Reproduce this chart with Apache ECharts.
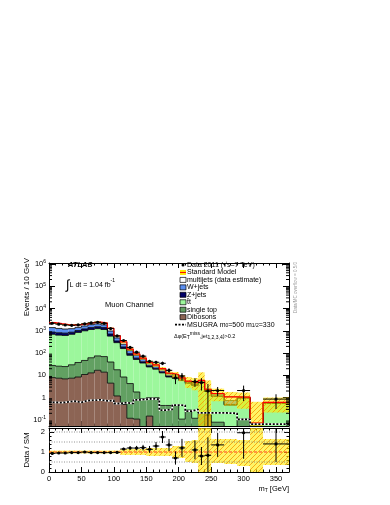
<!DOCTYPE html>
<html lang="en">

<head>
  <meta charset="UTF-8">
  <title>ATLAS mT muon channel</title>
  <script src="https://cdn.jsdelivr.net/npm/echarts@6/dist/echarts.min.js"></script>
  <style>
    * {
      padding: 0;
      margin: 0;
    }

    #box {
      width: 390px;
      height: 505px;
      background: #fff;
    }
  </style>
</head>

<body>
  <div id="box"></div>
  <script>
    // bins in mT [GeV], values in events / 10 GeV
    var binEdges = [0, 10, 20, 30, 40, 50, 60, 70, 80, 90, 100, 110, 120, 130, 140, 150, 160, 170, 180, 190,
      200, 210, 220, 230, 240, 250, 270, 290, 310, 330, 370]
    var dibosons = [8, 7.5, 7, 7.5, 8.5, 11, 13, 17, 14, 4.5, 1.2, 0.5, 0.12, 0.11, 0.04, 0.15, 0, 0, 0, 0,
      0, 0, 0, 0, 0.17, 0, 0, 0, 0, 0]
    var singleTop = [20, 18.5, 18, 22.5, 29.5, 36, 49, 58, 56, 35.5, 16.8, 8, 4.2, 1.7, 0.86, 0.85, 1.0, 0.45, 0.45, 0.45,
      0.11, 0.28, 0.12, 0.2, 0, 0.08, 0.05, 0.11, 0, 0.02]
    var ttbar = [672, 614, 595, 670, 812, 953, 1088, 1175, 1080, 540, 277, 151.5, 75.7, 50.2, 35.1, 23, 18, 12.55, 8.05, 7.05,
      5.89, 4.12, 3.38, 4.4, 1.73, 1.07, 0.42, 0.84, 0.06, 0.53]
    var zJets = [180, 180, 170, 170, 180, 220, 250, 280, 250, 140, 55, 30, 15, 8, 5, 3, 2, 1.5, 1, 0.8,
      0.5, 0.4, 0.4, 0.4, 0.15, 0.05, 0.03, 0.03, 0.005, 0.02]
    var wJets = [520, 460, 410, 380, 400, 430, 500, 520, 450, 260, 130, 60, 35, 20, 13, 7, 6, 4, 2.5, 2,
      0.9, 0.5, 0.6, 0.7, 0.25, 0.25, 0.25, 0.04, 0.005, 0.03]
    var multijets = [950, 820, 720, 570, 470, 410, 430, 430, 380, 320, 120, 70, 20, 12, 6, 4, 3, 1.5, 0.5, 0.7,
      0.4, 0.2, 0.3, 0.3, 0.1, 0.1, 0.35, 0.05, 0.003, 0.02]
    var data2011 = [2185, 1995, 1824, 1765, 1843, 2060, 2260, 2405, 2163, 1261, 588, 368, 180, 110, 73, 43, 39, 35, 16.9, 7.7,
      9.4, null, 5.3, 4.8, 2.0, 2.1, null, 2.1, null, 0.87]
    // data error, in units of data/SM
    var ratioErr = [0.02, 0.02, 0.02, 0.02, 0.02, 0.02, 0.02, 0.02, 0.02, 0.03, 0.04, 0.06, 0.09, 0.11, 0.14, 0.17, 0.2, 0.3, 0.3, 0.33,
      0.45, 0, 0.47, 0.45, 0.9, 0.6, 0, 1.3, 0, 0.9]
    // SM uncertainty band, relative
    var bandUp = [0.07, 0.07, 0.07, 0.07, 0.07, 0.07, 0.07, 0.07, 0.07, 0.07, 0.07, 0.15, 0.15, 0.15, 0.15, 0.2, 0.2, 0.2, 0.2, 0.3,
      0.3, 0.55, 0.6, 1.3, 1.5, 0.65, 0.65, 0.6, 8, 0.65]
    var bandDown = [0.07, 0.07, 0.07, 0.07, 0.07, 0.07, 0.07, 0.07, 0.07, 0.07, 0.07, 0.15, 0.15, 0.15, 0.15, 0.2, 0.2, 0.2, 0.2, 0.3,
      0.3, 0.5, 0.55, 1, 1, 0.55, 0.6, 0.7, 1, 0.65]
    var msugra = [0.62, 0.6, 0.65, 0.7, 0.62, 0.75, 0.78, 0.8, 0.72, 0.75, 0.55, 0.6, 0.55, 0.8, 0.85, 0.9, 0.85, 0.28, 0.3, 0.47,
      0.45, 0.25, 0.3, 0.21, 0.21, 0.21, 0.2, 0.107, 0.066, 0.066]
    var xTicks = [0, 50, 100, 150, 200, 250, 300, 350]
    var refLevels = [0.5, 1.5, 2, 1]

    var legendLabels = ['Data 2011 (\u221As=7 TeV)', 'Standard Model', 'multijets (data estimate)', 'W+jets', 'Z+jets',
      't\u0304t', 'single top', 'Dibosons', 'MSUGRA m{sub|0}=500 m{sub|1/2}=330']

    var FONT = '"Liberation Sans", Arial, Helvetica, sans-serif'
    var layerColors = ['#8c6454', '#62a062', '#9cf79c', '#000068', '#5b8ff0', '#ffffff']
    var nBins = binEdges.length - 1
    var FLOOR = 1e-3
    function pos(v) { return v > FLOOR ? v : FLOOR }

    var layers = [dibosons, singleTop, ttbar, zJets, wJets, multijets]
    var cumul = []
    layers.forEach(function (arr, l) {
      cumul.push(arr.map(function (v, i) { return v + (l ? cumul[l - 1][i] : 0) }))
    })
    var total = cumul[layers.length - 1]

    var stackData = []
    for (let l = 0; l < layers.length; l++) {
      for (let i = 0; i < nBins; i++) stackData.push([binEdges[i], pos(cumul[l][i]), i, l])
    }
    var binData = binEdges.slice(0, nBins).map(function (e, i) { return [e, pos(total[i]), i] })
    var pointData = [], ratioData = []
    data2011.forEach(function (v, i) {
      if (v === null) return
      var xc = (binEdges[i] + binEdges[i + 1]) / 2
      pointData.push([xc, v, i])
      ratioData.push([xc, v / total[i], i])
    })
    function stepLine(vals) {
      var pts = vals.map(function (v, i) { return [binEdges[i], v] })
      pts.push([binEdges[nBins], vals[nBins - 1]])
      return pts
    }
    var minorLog = []
    for (let n = -2; n <= 6; n++) {
      for (let k = 2; k <= 9; k++) minorLog.push([0, k * Math.pow(10, n)])
    }

    // yellow band with orange hatching
    var hatchCanvas = document.createElement('canvas')
    hatchCanvas.width = hatchCanvas.height = 5
    var g = hatchCanvas.getContext('2d')
    g.fillStyle = 'rgba(255,236,0,0.6)'
    g.fillRect(0, 0, 5, 5)
    g.strokeStyle = '#f59a00'
    g.lineWidth = 0.8
    g.beginPath()
    g.moveTo(0, 5); g.lineTo(5, 0)
    g.moveTo(-1, 1); g.lineTo(1, -1)
    g.moveTo(4, 6); g.lineTo(6, 4)
    g.stroke()
    var HATCH = { image: hatchCanvas, repeat: 'repeat' }

    function rectBetween(api, x0, x1, lo, hi, style) {
      var a = api.coord([x0, hi]), b = api.coord([x1, lo])
      return { type: 'rect', shape: { x: a[0], y: a[1], width: b[0] - a[0], height: b[1] - a[1] }, style: style }
    }

    function stackFill(params, api) {
      var i = api.value(2), l = api.value(3)
      var hi = pos(cumul[l][i]), lo = l === 0 ? FLOOR : pos(cumul[l - 1][i])
      if (hi <= lo) return null
      return rectBetween(api, binEdges[i], binEdges[i + 1], lo, hi, { fill: layerColors[l] })
    }

    function stackLine(params, api) {
      var i = api.value(2), l = api.value(3)
      var a = api.coord([binEdges[i], pos(cumul[l][i])])
      var b = api.coord([binEdges[i + 1], pos(cumul[l][i])])
      var pts = [a, b]
      if (i + 1 < nBins) pts.push(api.coord([binEdges[i + 1], pos(cumul[l][i + 1])]))
      return { type: 'polyline', shape: { points: pts }, style: { stroke: '#000', lineWidth: 0.8, fill: null } }
    }

    function bandMain(params, api) {
      var i = api.value(2)
      return rectBetween(api, binEdges[i], binEdges[i + 1], pos(total[i] * (1 - bandDown[i])),
        total[i] * (1 + bandUp[i]), { fill: HATCH })
    }

    function bandRatio(params, api) {
      var i = api.value(2)
      return rectBetween(api, binEdges[i], binEdges[i + 1], Math.max(1 - bandDown[i], -0.1),
        Math.min(1 + bandUp[i], 3), { fill: HATCH })
    }

    function errPoint(api, i, v, e, floor) {
      var xc = (binEdges[i] + binEdges[i + 1]) / 2
      var c = api.coord([xc, v])
      var l = api.coord([binEdges[i], v]), r = api.coord([binEdges[i + 1], v])
      var up = api.coord([xc, v + e]), dn = api.coord([xc, Math.max(v - e, floor)])
      return {
        type: 'group', children: [
          { type: 'line', shape: { x1: l[0], y1: c[1], x2: r[0], y2: c[1] }, style: { stroke: '#000', lineWidth: 1 } },
          { type: 'line', shape: { x1: c[0], y1: up[1], x2: c[0], y2: dn[1] }, style: { stroke: '#000', lineWidth: 1 } },
          { type: 'circle', shape: { cx: c[0], cy: c[1], r: 1.6 }, style: { fill: '#000' } }
        ]
      }
    }

    function dataMain(params, api) {
      var i = api.value(2)
      return errPoint(api, i, data2011[i], ratioErr[i] * total[i], FLOOR)
    }

    function dataRatio(params, api) {
      var i = api.value(2)
      return errPoint(api, i, data2011[i] / total[i], ratioErr[i], -0.1)
    }

    function minorTicks(params, api) {
      var l = api.coord([0, api.value(1)]), r = api.coord([370, api.value(1)])
      return {
        type: 'group', children: [
          { type: 'line', shape: { x1: l[0], y1: l[1], x2: l[0] + 3, y2: l[1] }, style: { stroke: '#000', lineWidth: 1 } },
          { type: 'line', shape: { x1: r[0], y1: r[1], x2: r[0] - 3, y2: r[1] }, style: { stroke: '#000', lineWidth: 1 } }
        ]
      }
    }

    function refLine(params, api) {
      var v = api.value(1), k = params.dataIndex
      var a = api.coord([0, v]), b = api.coord([370, v])
      var isOne = k === refLevels.length - 1
      return {
        type: 'line', shape: { x1: a[0], y1: a[1], x2: b[0], y2: b[1] },
        style: isOne ? { stroke: '#ff3b1f', lineWidth: 1, lineDash: [3, 2] } : { stroke: '#777', lineWidth: 0.8, lineDash: [1, 1.5] }
      }
    }

    var supRich = {
      sup: { fontSize: 5, verticalAlign: 'top', lineHeight: 9, fontFamily: FONT },
      sub: { fontSize: 5, verticalAlign: 'bottom', lineHeight: 7, fontFamily: FONT, padding: [3, 0, 0, 0] }
    }

    function xAxisOf(grid, position, labels) {
      return {
        gridIndex: grid, type: 'value', min: 0, max: 370, interval: 50, position: position,
        axisLine: { onZero: false, lineStyle: { color: '#000', width: 1 } },
        axisTick: { inside: true, length: 5, lineStyle: { color: '#000' } },
        minorTick: { show: true, splitNumber: 5, length: 2.5, lineStyle: { color: '#000' } },
        splitLine: { show: false },
        axisLabel: {
          show: labels, fontSize: 7.5, color: '#000', margin: 3, fontFamily: FONT,
          formatter: function (v) { return xTicks.indexOf(v) >= 0 ? String(v) : '' }
        }
      }
    }

    function logAxisOf(position, labels) {
      return {
        gridIndex: 0, type: 'log', min: 0.054, max: 1.1e6, splitNumber: 8, position: position,
        axisLine: { onZero: false, lineStyle: { color: '#000', width: 1 } },
        axisTick: { inside: true, length: 6, lineStyle: { color: '#000' } },
        splitLine: { show: false },
        axisLabel: {
          show: labels, fontSize: 7.5, color: '#000', margin: 3, fontFamily: FONT, rich: supRich,
          formatter: function (v) {
            var lg = Math.log10(v), e = Math.round(lg)
            if (Math.abs(lg - e) > 1e-6) return ''
            if (e === 0) return '1'
            if (e === 1) return '10'
            return '10{sup|' + e + '}'
          }
        }
      }
    }

    function ratioAxisOf(position, labels) {
      return {
        gridIndex: 1, type: 'value', min: 0, max: 2.2, interval: 1, position: position,
        axisLine: { onZero: false, lineStyle: { color: '#000', width: 1 } },
        axisTick: { inside: true, length: 5, lineStyle: { color: '#000' } },
        minorTick: { show: true, splitNumber: 5, length: 2.5, lineStyle: { color: '#000' } },
        splitLine: { show: false },
        axisLabel: {
          show: labels, fontSize: 7.5, color: '#000', margin: 4, fontFamily: FONT,
          formatter: function (v) { return Math.abs(v - Math.round(v)) < 1e-6 ? String(Math.round(v)) : '' }
        }
      }
    }

    function txt(x, y, text, size, extra) {
      var st = { text: text, fontSize: size, fontFamily: FONT, fill: '#000', verticalAlign: 'middle', rich: supRich }
      for (var k in extra || {}) st[k] = extra[k]
      return { type: 'text', x: x, y: y, style: st, z: 100 }
    }

    // legend drawn as graphics
    var legendX = 180, legendY0 = 265, legendDy = 7.45
    var graphics = []
    legendLabels.forEach(function (label, r) {
      var y = legendY0 + r * legendDy
      graphics.push(txt(legendX + 7, y, label, 7))
      if (r === 0) {
        graphics.push({ type: 'circle', shape: { cx: legendX + 3, cy: y, r: 1.5 }, style: { fill: '#000' }, z: 100 })
      } else if (r === 1) {
        graphics.push({ type: 'rect', shape: { x: legendX, y: y - 2.5, width: 6, height: 5 }, style: { fill: '#ffe800' }, z: 100 })
        graphics.push({ type: 'line', shape: { x1: legendX, y1: y, x2: legendX + 6, y2: y }, style: { stroke: '#ff0000', lineWidth: 1 }, z: 100 })
      } else if (r === 8) {
        graphics.push({ type: 'line', shape: { x1: legendX - 5, y1: y, x2: legendX + 6, y2: y }, style: { stroke: '#000', lineWidth: 1.6, lineDash: [2, 1.5] }, z: 100 })
      } else {
        graphics.push({ type: 'rect', shape: { x: legendX, y: y - 2.5, width: 6, height: 5 }, style: { fill: layerColors[7 - r], stroke: '#000', lineWidth: 0.7 }, z: 100 })
      }
    })
    graphics.push(txt(174, 336, '\u0394\u03c6(E{sub|T}{sup|miss},jet{sub|1,2,3,4})>0.2', 5.5))
    graphics.push(txt(68, 265, 'ATLAS', 7.5, { fontWeight: 'bold', fontStyle: 'italic' }))
    graphics.push(txt(66, 285, '{int|\u222b}L dt = 1.04 fb{sup|-1}', 7, {
      rich: { int: { fontSize: 13, fontFamily: FONT }, sup: supRich.sup }
    }))
    graphics.push(txt(105, 305, 'Muon Channel', 7.5))
    graphics.push(txt(289, 489, 'm{sub|T} [GeV]', 7.5, { align: 'right' }))
    graphics.push({
      type: 'text', x: 27, y: 258, rotation: Math.PI / 2, z: 100,
      style: { text: 'Events / 10 GeV', fontSize: 8, fontFamily: FONT, fill: '#000', align: 'right', verticalAlign: 'middle' }
    })
    graphics.push({
      type: 'text', x: 27, y: 450, rotation: Math.PI / 2, z: 100,
      style: { text: 'Data / SM', fontSize: 8, fontFamily: FONT, fill: '#000', align: 'center', verticalAlign: 'middle' }
    })
    graphics.push({
      type: 'text', x: 296, y: 262, rotation: Math.PI / 2, z: 100,
      style: { text: 'Data/MC overflow = 0.5/0', fontSize: 4.5, fontFamily: FONT, fill: '#999', align: 'right', verticalAlign: 'middle' }
    })

    var mCharts = echarts.init(document.getElementById('box'))
    var option = {
      animation: false,
      backgroundColor: '#fff',
      grid: [
        { left: 49, top: 263, width: 240, height: 163 },
        { left: 49, top: 428, width: 240, height: 44 }
      ],
      xAxis: [xAxisOf(0, 'bottom', false), xAxisOf(0, 'top', false), xAxisOf(1, 'bottom', true), xAxisOf(1, 'top', false)],
      yAxis: [logAxisOf('left', true), logAxisOf('right', false), ratioAxisOf('left', true), ratioAxisOf('right', false)],
      graphic: graphics,
      series: [
        {
          name: 'stack', type: 'custom', xAxisIndex: 0, yAxisIndex: 0, clip: true, z: 1,
          renderItem: stackFill, data: stackData, encode: { x: 0, y: 1 }
        },
        {
          name: 'stack outline', type: 'custom', xAxisIndex: 0, yAxisIndex: 0, clip: true, z: 2,
          renderItem: stackLine, data: stackData, encode: { x: 0, y: 1 }
        },
        {
          name: 'band', type: 'custom', xAxisIndex: 0, yAxisIndex: 0, clip: true, z: 3,
          renderItem: bandMain, data: binData, encode: { x: 0, y: 1 }
        },
        {
          name: 'Standard Model', type: 'line', xAxisIndex: 0, yAxisIndex: 0, step: 'end', symbol: 'none', z: 4,
          lineStyle: { color: '#ff0000', width: 1.2 }, data: stepLine(total.map(pos))
        },
        {
          name: 'MSUGRA white', type: 'line', xAxisIndex: 0, yAxisIndex: 0, step: 'end', symbol: 'none', z: 5,
          lineStyle: { color: '#fff', width: 1.8 }, data: stepLine(msugra)
        },
        {
          name: 'MSUGRA', type: 'line', xAxisIndex: 0, yAxisIndex: 0, step: 'end', symbol: 'none', z: 6,
          lineStyle: { color: '#000', width: 1.8, type: [2, 1.6] }, data: stepLine(msugra)
        },
        {
          name: 'minor ticks', type: 'custom', xAxisIndex: 0, yAxisIndex: 0, clip: true, z: 7,
          renderItem: minorTicks, data: minorLog, encode: { x: 0, y: 1 }
        },
        {
          name: 'Data 2011', type: 'custom', xAxisIndex: 0, yAxisIndex: 0, clip: true, z: 8,
          renderItem: dataMain, data: pointData, encode: { x: 0, y: 1 }
        },
        {
          name: 'ratio band', type: 'custom', xAxisIndex: 2, yAxisIndex: 2, clip: true, z: 1,
          renderItem: bandRatio, data: binData.map(function (d) { return [d[0], 1, d[2]] }), encode: { x: 0, y: 1 }
        },
        {
          name: 'ratio lines', type: 'custom', xAxisIndex: 2, yAxisIndex: 2, clip: true, z: 2,
          renderItem: refLine, data: refLevels.map(function (v) { return [0, v] }), encode: { x: 0, y: 1 }
        },
        {
          name: 'Data / SM', type: 'custom', xAxisIndex: 2, yAxisIndex: 2, clip: true, z: 3,
          renderItem: dataRatio, data: ratioData, encode: { x: 0, y: 1 }
        }
      ]
    }
    mCharts.setOption(option)
  </script>
</body>

</html>
